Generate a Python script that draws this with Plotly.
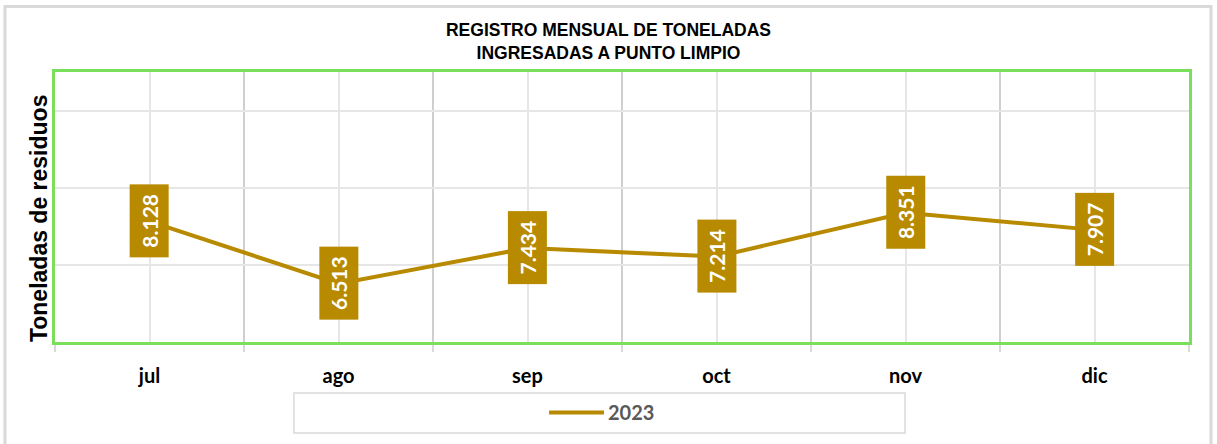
import plotly.graph_objects as go

# datos del grafico
meses = ["jul", "ago", "sep", "oct", "nov", "dic"]
toneladas = [8.128, 6.513, 7.434, 7.214, 8.351, 7.907]
etiquetas = ["8.128", "6.513", "7.434", "7.214", "8.351", "7.907"]
serie = "2023"

oro = "#B88A00"
verde = "#7ADF5A"

pos = list(range(len(meses)))

fig = go.Figure()
fig.add_trace(go.Scatter(x=pos, y=toneladas, mode="lines", name=serie,
                         line=dict(color=oro, width=4), showlegend=False))

# etiquetas de datos giradas con fondo dorado
for xi, yi, txt in zip(pos, toneladas, etiquetas):
    fig.add_annotation(x=xi, y=yi, text="<b>" + txt + "</b>", showarrow=False,
                       textangle=-90, bgcolor=oro, borderpad=0,
                       width=72, height=38,
                       font=dict(family="Lato", size=21, color="white"))

# titulo del eje y
fig.add_annotation(xref="paper", yref="paper", x=-0.0141, y=0.459,
                   xanchor="center", yanchor="middle",
                   text="<b>Toneladas de residuos</b>", showarrow=False,
                   textangle=-90, font=dict(family="Liberation Sans", size=23, color="black"))

# borde exterior del grafico y caja de la leyenda
fig.add_shape(type="rect", xref="paper", yref="paper", x0=-0.0441, x1=1.0194,
              y0=-0.45, y1=1.2426, line=dict(color="#D9D9D9", width=3), layer="below")
fig.add_shape(type="rect", xref="paper", yref="paper", x0=0.2107, x1=0.7496,
              y0=-0.337, y1=-0.1889, line=dict(color="#D9D9D9", width=1.5),
              fillcolor="white", layer="below")

# leyenda: linea de la serie y su nombre
fig.add_shape(type="line", xref="paper", yref="paper", x0=0.4357, x1=0.4841,
              y0=-0.2611, y1=-0.2611, line=dict(color=oro, width=4))
fig.add_annotation(xref="paper", yref="paper", x=0.4859, y=-0.2611,
                   xanchor="left", yanchor="middle", showarrow=False,
                   text="<b>" + serie + "</b>",
                   font=dict(family="Lato", size=20, color="#595959"))

fig.update_layout(
    width=1217, height=444,
    margin=dict(l=55, r=28, t=72, b=102),
    paper_bgcolor="white", plot_bgcolor="white",
    title=dict(text="<b>REGISTRO MENSUAL DE TONELADAS<br>INGRESADAS A PUNTO LIMPIO</b>",
               x=0.5, xanchor="center", y=0.918, yanchor="top",
               font=dict(family="Liberation Sans", size=17.5, color="black")),
    showlegend=False,
    font=dict(family="Lato"),
)

fig.update_xaxes(
    range=[-0.5, len(meses) - 0.5],
    tickvals=pos, ticktext=["<b>" + m + "</b>" for m in meses],
    tickfont=dict(family="Lato", size=20, color="black"),
    showgrid=True, gridcolor="#E6E6E6", gridwidth=1.5,
    ticks="", ticklabelstandoff=14,
    minor=dict(tickvals=[p - 0.5 for p in pos] + [len(meses) - 0.5],
               showgrid=True, gridcolor="#CFCFCF", gridwidth=2,
               ticks="outside", ticklen=7, tickcolor="#D9D9D9", tickwidth=2),
    showline=True, linecolor=verde, linewidth=3, mirror=True,
    zeroline=False,
)
fig.update_yaxes(
    range=[5, 12], tickvals=[5, 7, 9, 11], showticklabels=False,
    showgrid=True, gridcolor="#E6E6E6", gridwidth=1.5,
    showline=True, linecolor=verde, linewidth=3, mirror=True,
    zeroline=False,
)

fig.write_html("out.html", config={"displayModeBar": False},
               post_script="document.body.style.margin='0';")
